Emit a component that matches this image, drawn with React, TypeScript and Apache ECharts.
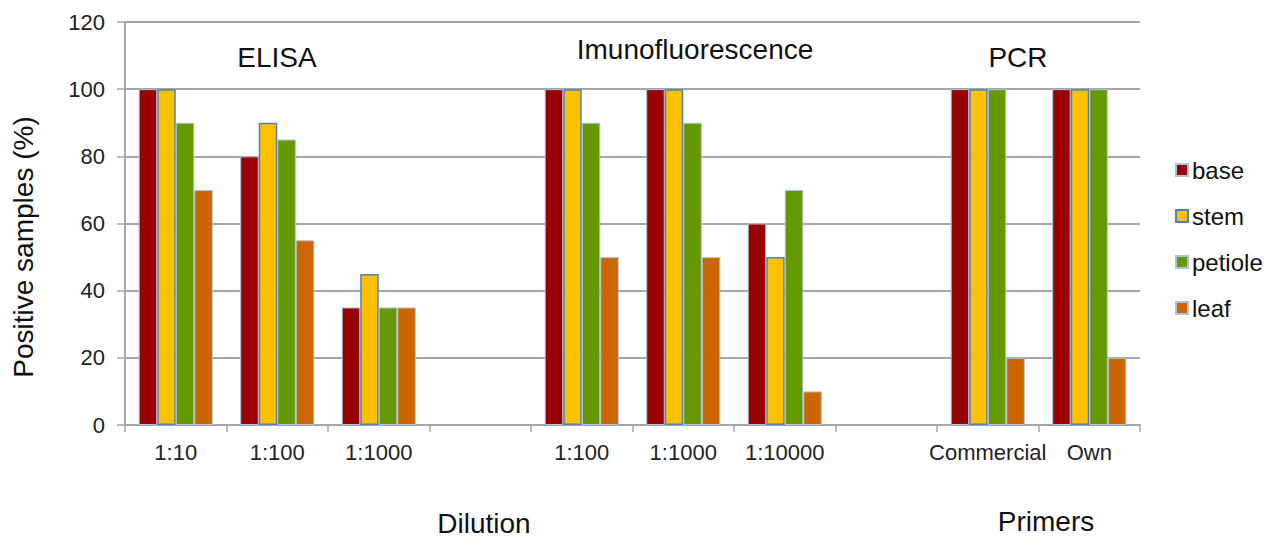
import React, { useEffect, useRef } from "react";
import * as echarts from "echarts";

const categories = ["1:10", "1:100", "1:1000", "", "1:100", "1:1000", "1:10000", "", "Commercial", "Own"];
const base = [100, 80, 35, null, 100, 100, 60, null, 100, 100];
const stem = [100, 90, 45, null, 100, 100, 50, null, 100, 100];
const petiole = [90, 85, 35, null, 90, 90, 70, null, 100, 100];
const leaf = [70, 55, 35, null, 50, 50, 10, null, 20, 20];
const seriesNames = ["base", "stem", "petiole", "leaf"];
const groupTitles = ["ELISA", "Imunofluorescence", "PCR"];
const axisTitles = ["Dilution", "Primers"];
const yTitle = "Positive samples (%)";

const FONT = "Liberation Sans, Arial, sans-serif";

export default function App() {
  const ref = useRef<HTMLDivElement>(null);
  useEffect(() => {
    const chart = echarts.init(ref.current!, null, { renderer: "svg" });
    const colors = ["#990000", "#FFC000", "#669900", "#CC6600"];
    const data = [base, stem, petiole, leaf];
    const series = data.map((d, i) => ({
      name: seriesNames[i],
      type: "bar",
      data: d,
      barGap: "0%",
      barCategoryGap: "27%",
      itemStyle: {
        color: colors[i],
        borderColor: i === 1 ? "#4F81BD" : "#A9C4E4",
        borderWidth: i === 1 ? 1.5 : 1,
      },
    }));
    const titleStyle = (text: string) => ({
      text,
      fontSize: 28,
      fontFamily: FONT,
      fill: "#111",
      align: "center",
      verticalAlign: "middle",
    });
    chart.setOption({
      animation: false,
      backgroundColor: "#ffffff",
      grid: { left: 125, right: 145, top: 22, bottom: 118, containLabel: false },
      legend: {
        orient: "vertical",
        left: 1175,
        top: 158,
        padding: 0,
        itemWidth: 12,
        itemHeight: 12,
        itemGap: 22,
        icon: "rect",
        textStyle: { fontSize: 24, fontFamily: FONT, color: "#111", padding: [0, 0, 0, -1] },
        data: seriesNames,
      },
      xAxis: {
        type: "category",
        data: categories,
        axisLine: { lineStyle: { color: "#A6A6A6", width: 2 } },
        axisTick: { show: true, interval: 0, length: 7, alignWithLabel: false, lineStyle: { color: "#A6A6A6", width: 1.5 } },
        axisLabel: { interval: 0, fontSize: 22, fontFamily: FONT, color: "#222", margin: 16 },
      },
      yAxis: {
        type: "value",
        min: 0,
        max: 120,
        interval: 20,
        axisLine: { show: true, lineStyle: { color: "#A6A6A6", width: 2 } },
        axisTick: { show: true, length: 8, lineStyle: { color: "#A6A6A6", width: 1.5 } },
        axisLabel: { fontSize: 22, fontFamily: FONT, color: "#222", margin: 20 },
        splitLine: { lineStyle: { color: "#A6A6A6", width: 2 } },
      },
      graphic: [
        { type: "text", x: 277, y: 57, style: titleStyle(groupTitles[0]) },
        { type: "text", x: 695, y: 49, style: titleStyle(groupTitles[1]) },
        { type: "text", x: 1018, y: 57, style: titleStyle(groupTitles[2]) },
        { type: "text", x: 484, y: 523, style: titleStyle(axisTitles[0]) },
        { type: "text", x: 1046, y: 521, style: titleStyle(axisTitles[1]) },
        {
          type: "text",
          x: 23,
          y: 247,
          rotation: Math.PI / 2,
          style: { text: yTitle, fontSize: 28, fontFamily: FONT, fill: "#111", align: "center", verticalAlign: "middle" },
        },
      ],
      series,
    });
    return () => chart.dispose();
  }, []);
  return <div ref={ref} style={{ position: "fixed", left: 0, top: 0, width: 1285, height: 543 }} />;
}
